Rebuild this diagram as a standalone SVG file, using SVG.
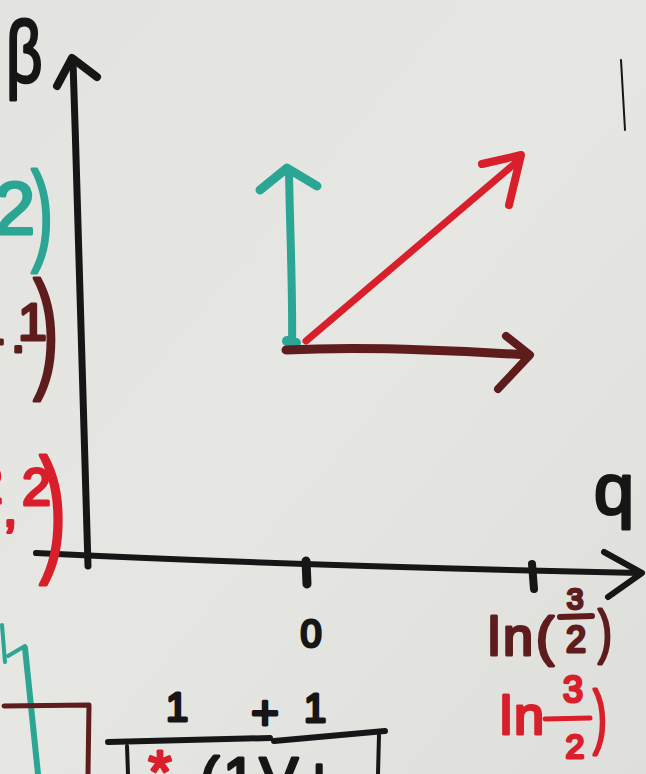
<svg xmlns="http://www.w3.org/2000/svg" width="646" height="774" viewBox="0 0 646 774">
<defs>
<linearGradient id="bg" x1="0" y1="0" x2="1" y2="1">
<stop offset="0" stop-color="#e3e4e0"/>
<stop offset="0.5" stop-color="#e6e7e3"/>
<stop offset="1" stop-color="#dedfdb"/>
</linearGradient>
</defs>
<style>
.s{fill:none;stroke-linecap:round;stroke-linejoin:round}
.k{stroke:#161616}
.tl{stroke:#2ba594}
.br{stroke:#5e1c1c}
.rd{stroke:#d91f2b}
.t{font-family:"Liberation Sans","DejaVu Sans",sans-serif;font-weight:normal;stroke-linejoin:round;stroke-linecap:round;stroke-width:3}
.tk{fill:#161616;stroke:#161616}
.ttl{fill:#2ba594;stroke:#2ba594}
.tbr{fill:#5e1c1c;stroke:#5e1c1c}
.trd{fill:#d91f2b;stroke:#d91f2b}
</style>
<rect width="646" height="774" fill="url(#bg)"/>

<g id="axes">
<path class="s k" stroke-width="7" d="M88,566 C86,450 79,250 73,62"/>
<path class="s k" stroke-width="8" d="M57,86 L72,58 L97,77"/>
<path class="s k" stroke-width="6" d="M36,553 Q300,566 640,573"/>
<path class="s k" stroke-width="6" d="M604,552 L642,573 L608,597"/>
<path class="s k" stroke-width="9" d="M306,561 L307,584"/>
<path class="s k" stroke-width="8" d="M532,564 L534,589"/>
<path class="s k" stroke-width="2" d="M621,60 L625,130"/>
</g>

<g id="labels">
<text class="t tk" x="6" y="82" font-size="88" stroke-width="6" transform="translate(6,0) scale(0.72,1) translate(-6,0)">β</text>
<text class="t tk" x="594" y="514" font-size="72" stroke-width="5">q</text>
<text class="t tk" x="311" y="647" font-size="38" stroke-width="5" text-anchor="middle">0</text>
</g>

<g id="ln-brown">
<text class="t tbr" x="488" y="655" font-size="54" stroke-width="4" letter-spacing="3">ln(</text>
<text class="t tbr" x="575" y="609" font-size="30" stroke-width="4" text-anchor="middle">3</text>
<path class="s br" stroke-width="6" d="M560,617 L592,616"/>
<text class="t tbr" x="576" y="652" font-size="36" stroke-width="4" text-anchor="middle">2</text>
<text class="t tbr" x="598" y="652" font-size="60" stroke-width="4" transform="translate(598,0) scale(0.7,1) translate(-598,0)">)</text>
</g>

<g id="ln-red">
<text class="t trd" x="500" y="734" font-size="54" stroke-width="4" letter-spacing="2">ln</text>
<text class="t trd" x="573" y="702" font-size="36" stroke-width="4" text-anchor="middle">3</text>
<path class="s rd" stroke-width="5" d="M545,719 L590,718"/>
<text class="t trd" x="575" y="758" font-size="34" stroke-width="4" text-anchor="middle">2</text>
<text class="t trd" x="593" y="740" font-size="70" stroke-width="4" transform="translate(593,0) scale(0.6,1) translate(-593,0)">)</text>
</g>

<g id="vectors">
<path class="s tl" stroke-width="8" d="M292,346 C293,300 290,230 289,172"/>
<path class="s tl" stroke-width="9" d="M260,190 L287,168 L317,186"/>
<path class="s tl" stroke-width="10" d="M287,341 L296,343"/>
<path class="s rd" stroke-width="7" d="M306,341 L519,160"/>
<path class="s rd" stroke-width="8" d="M482,164 L521,155 L509,205"/>
<path class="s br" stroke-width="9" d="M286,350 C360,346 450,350 527,355"/>
<path class="s br" stroke-width="8" d="M506,336 L530,355 L498,389"/>
</g>

<g id="left-notes">
<text class="t ttl" x="-6" y="234" font-size="74" stroke-width="5">2</text>
<text class="t ttl" x="31" y="250" font-size="112" stroke-width="4" transform="translate(31,0) scale(0.6,1) translate(-31,0)">)</text>
<text class="t tbr" font-size="52" stroke-width="4"><tspan x="-24" y="344">1</tspan><tspan x="11" y="352">.</tspan><tspan x="18" y="340">1</tspan></text>
<text class="t tbr" x="33" y="374" font-size="132" stroke-width="4" transform="translate(33,0) scale(0.6,1) translate(-33,0)">)</text>
<text class="t trd" font-size="52" stroke-width="5"><tspan x="-26" y="503">2</tspan><tspan x="3" y="526">,</tspan><tspan x="22" y="505">2</tspan></text>
<text class="t trd" x="39" y="556" font-size="140" stroke-width="4" transform="translate(39,0) scale(0.6,1) translate(-39,0)">)</text>
</g>

<g id="bottom-left">
<path class="s tl" stroke-width="4" d="M2,625 L5,662"/>
<path class="s tl" stroke-width="6" d="M25,648 L38,774"/>
<path class="s tl" stroke-width="4" d="M8,656 L25,646"/>
<path class="s br" stroke-width="5" d="M4,706 L89,705 L88,774"/>
</g>

<g id="bottom-fraction">
<text class="t tk" x="166" y="721" font-size="40" stroke-width="4">1</text>
<text class="t tk" x="265" y="729" font-size="48" stroke-width="4" text-anchor="middle">+</text>
<text class="t tk" x="304" y="722" font-size="40" stroke-width="4">1</text>
<path class="s k" stroke-width="6" d="M108,742 L270,738"/>
<path class="s k" stroke-width="6" d="M274,741 L385,731"/>
<path class="s k" stroke-width="4" d="M127,746 L128,774"/>
<path class="s k" stroke-width="4" d="M379,735 L378,774"/>
<text class="t trd" x="160" y="792" font-size="60" stroke-width="4" text-anchor="middle">*</text>
<text class="t tk" x="200" y="798" font-size="58" stroke-width="4" letter-spacing="4">(1V+</text>
</g>
</svg>
